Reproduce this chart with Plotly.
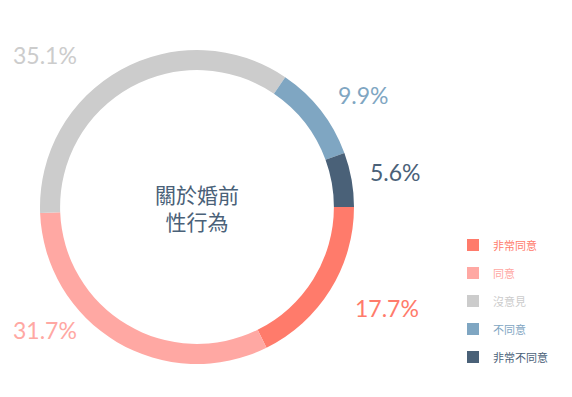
import plotly.graph_objects as go

W, H = 572, 397
categories = ["非常同意", "同意", "沒意見", "不同意", "非常不同意"]
values = [17.7, 31.7, 35.1, 9.9, 5.6]
colors = ["#FF7B6B", "#FFA8A3", "#CCCCCC", "#7FA6C2", "#4A6178"]
center_title = "關於婚前<br>性行為"

# layout positions (pixels) for percentage labels
label_px = [(387, 308), (45, 330), (45, 55), (363, 95), (395, 172)]

cx, cy, r = 197, 207, 157

fig = go.Figure(go.Pie(
    labels=categories, values=values, marker=dict(colors=colors, line=dict(width=0)),
    hole=0.872, sort=False, direction="clockwise", rotation=90,
    textinfo="none", hoverinfo="label+percent", showlegend=False,
    domain=dict(x=[(cx - r) / W, (cx + r) / W], y=[(H - cy - r) / H, (H - cy + r) / H]),
))

ann = []
for v, c, (px, py) in zip(values, colors, label_px):
    ann.append(dict(x=px / W, y=1 - py / H, xref="paper", yref="paper", text=f"{v}%",
                    showarrow=False, font=dict(family="Lato, Noto Sans", size=23, color=c),
                    xanchor="center", yanchor="middle"))
ann.append(dict(x=cx / W, y=1 - cy / H, xref="paper", yref="paper", text=center_title,
                showarrow=False, font=dict(family="Noto Sans CJK TC", size=21, color="#4A6178"),
                xanchor="center", yanchor="middle"))

shapes = []
for i, (cat, c) in enumerate(zip(categories, colors)):
    y0 = 245 + 28 * i
    shapes.append(dict(type="rect", xref="paper", yref="paper",
                       x0=467 / W, x1=479 / W, y0=1 - (y0 + 6) / H, y1=1 - (y0 - 6) / H,
                       fillcolor=c, line=dict(width=0)))
    ann.append(dict(x=491 / W, y=1 - y0 / H, xref="paper", yref="paper", text=cat,
                    showarrow=False, font=dict(family="Noto Sans CJK TC", size=11, color=c),
                    xanchor="left", yanchor="middle"))

fig.update_layout(width=W, height=H, margin=dict(l=0, r=0, t=0, b=0),
                  paper_bgcolor="white", plot_bgcolor="white",
                  annotations=ann, shapes=shapes)
fig.write_html("out.html")
